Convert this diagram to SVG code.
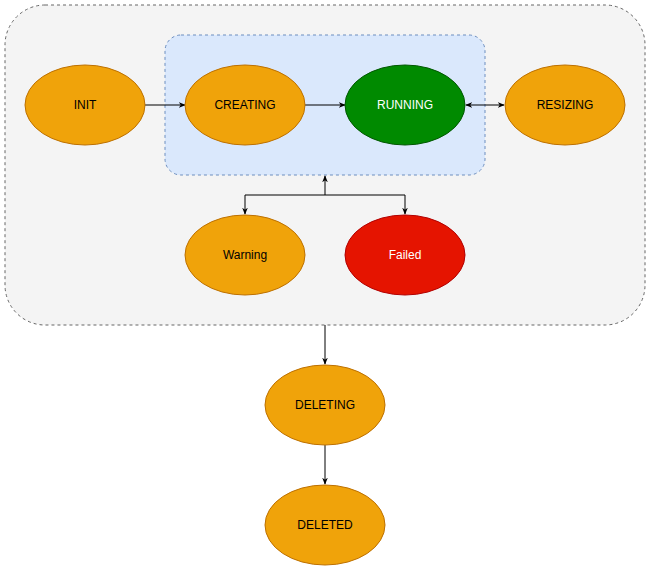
<svg xmlns="http://www.w3.org/2000/svg" width="651" height="571" viewBox="0 0 651 571">
<style>
.o{fill:#f0a30a;stroke:#bd7000;stroke-width:1}
.t{font-family:"Liberation Sans",Arial,sans-serif;font-size:12px;text-anchor:middle;dominant-baseline:central;fill:#000}
.w{fill:#fff}
.c{fill:none;stroke:#000;stroke-width:1}
</style>
<defs>
<marker id="a" viewBox="0 0 10 10" refX="9" refY="5" markerWidth="7" markerHeight="7" orient="auto-start-reverse"><path d="M0,1 L10,5 L0,9 L3,5 Z" fill="#000"/></marker>
</defs>
<rect width="651" height="571" fill="#fff"/>
<g id="outer"><rect x="5" y="5" width="640" height="320" rx="40" fill="#f4f4f4" stroke="#666" stroke-dasharray="3,3"/></g>
<g id="inner"><rect x="165" y="35" width="320" height="140" rx="16" fill="#dae8fc" stroke="#6c8ebf" stroke-dasharray="3,3"/></g>
<g id="connectors">
<path class="c" d="M145,105H185" marker-end="url(#a)"/>
<path class="c" d="M305,105H345" marker-end="url(#a)"/>
<path class="c" d="M466,105H504" marker-start="url(#a)" marker-end="url(#a)"/>
<path class="c" d="M325,195V176" marker-end="url(#a)"/>
<path class="c" d="M325,195H245V214" marker-end="url(#a)"/>
<path class="c" d="M325,195H405V214" marker-end="url(#a)"/>
<path class="c" d="M325,325V364" marker-end="url(#a)"/>
<path class="c" d="M325,445V484" marker-end="url(#a)"/>
</g>
<g id="init"><ellipse class="o" cx="85" cy="105" rx="60" ry="40"/><text class="t" x="85" y="105">INIT</text></g>
<g id="creating"><ellipse class="o" cx="245" cy="105" rx="60" ry="40"/><text class="t" x="245" y="105">CREATING</text></g>
<g id="running"><ellipse cx="405" cy="105" rx="60" ry="40" fill="#008a00" stroke="#005700"/><text class="t w" x="405" y="105">RUNNING</text></g>
<g id="resizing"><ellipse class="o" cx="565" cy="105" rx="60" ry="40"/><text class="t" x="565" y="105">RESIZING</text></g>
<g id="warning"><ellipse class="o" cx="245" cy="255" rx="60" ry="40"/><text class="t" x="245" y="255">Warning</text></g>
<g id="failed"><ellipse cx="405" cy="255" rx="60" ry="40" fill="#e51400" stroke="#b20000"/><text class="t w" x="405" y="255">Failed</text></g>
<g id="deleting"><ellipse class="o" cx="325" cy="405" rx="60" ry="40"/><text class="t" x="325" y="405">DELETING</text></g>
<g id="deleted"><ellipse class="o" cx="325" cy="525" rx="60" ry="40"/><text class="t" x="325" y="525">DELETED</text></g>
</svg>
